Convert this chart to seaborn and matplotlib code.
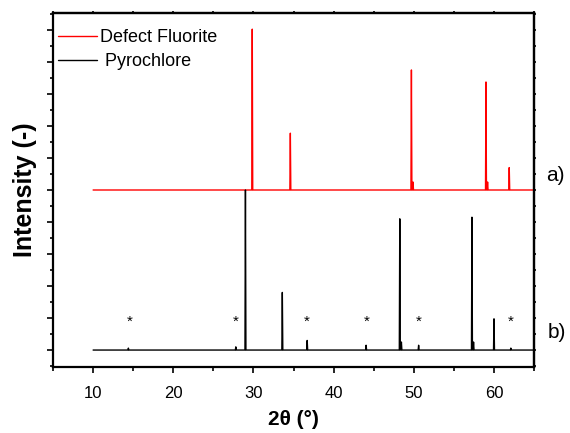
import numpy as np
import pandas as pd
import matplotlib
matplotlib.use("Agg")
import matplotlib.pyplot as plt
import seaborn as sns

# peak positions (2theta, deg) and heights
fluor_pos = [29.85, 34.6, 49.7, 49.9, 59.0, 59.2, 61.9]
fluor_int = [10.05, 3.55, 7.5, 0.5, 6.75, 0.5, 1.4]
pyro_pos = [14.4, 27.8, 29.0, 33.6, 36.7, 44.05, 48.25, 48.45, 50.6, 57.25, 57.45, 60.0, 62.1]
pyro_int = [0.12, 0.2, 10.0, 3.6, 0.6, 0.3, 8.2, 0.5, 0.3, 8.3, 0.5, 1.95, 0.12]
offsets = {"Defect Fluorite": 10.0, " Pyrochlore": 0.0}
star_pos = [14.6, 27.8, 36.7, 44.1, 50.6, 62.1]
scan_start, scan_end = 10, 65
half_width = 0.06

def pattern(pos, inten, shift, name):
    # baseline with a narrow triangle for every peak
    xs, ys = [scan_start], [shift]
    for p, h in sorted(zip(pos, inten)):
        xs += [p - half_width, p, p + half_width]
        ys += [shift, shift + h, shift]
    xs.append(scan_end)
    ys.append(shift)
    return pd.DataFrame({"two_theta": xs, "intensity": ys, "phase": name})

df = pd.concat([
    pattern(fluor_pos, fluor_int, offsets["Defect Fluorite"], "Defect Fluorite"),
    pattern(pyro_pos, pyro_int, offsets[" Pyrochlore"], " Pyrochlore"),
])

sns.set_style("ticks")
plt.rcParams["font.family"] = ["Liberation Sans", "DejaVu Sans"]
plt.rcParams.update({"text.color": "black", "axes.labelcolor": "black",
                     "xtick.color": "black", "ytick.color": "black"})

fig = plt.figure(figsize=(5.7, 4.33), dpi=100)
ax = fig.add_axes([0.093, 0.1524, 0.844, 0.8176])

for name, col in [("Defect Fluorite", "#ff0000"), (" Pyrochlore", "#000000")]:
    sub = df[df.phase == name]
    sns.lineplot(data=sub, x="two_theta", y="intensity", ax=ax, color=col,
                 lw=1.0, sort=False, estimator=None, label=name)

for s in star_pos:
    ax.text(s, 1.77, "*", ha="center", va="center", fontsize=11, color="black")

ax.text(66.5, 10.9, "a)", fontsize=15, va="center", ha="left", clip_on=False)
ax.text(66.75, 1.1, "b)", fontsize=15, va="center", ha="left", clip_on=False)

ax.set_xlim(5, 65)
ax.set_ylim(-1.06, 21.06)
ax.set_xticks([10, 20, 30, 40, 50, 60])
ax.set_xticks([5, 15, 25, 35, 45, 55, 65], minor=True)
ax.set_yticks(np.arange(0, 21, 2))
ax.set_yticks(np.arange(-1, 22, 2), minor=True)
ax.set_yticklabels([])
ax.tick_params(axis="both", which="major", length=4.5, width=1.2, labelsize=12, pad=9,
               direction="out", colors="black")
ax.tick_params(axis="both", which="minor", length=3.0, width=1.2, direction="out", colors="black")
ax.tick_params(axis="y", which="minor", length=2.2)

top = ax.secondary_xaxis("top")
top.set_xticks([5, 10, 15, 20, 25, 30, 35, 40, 45, 50, 55, 60, 65])
top.set_xticklabels([])
top.tick_params(length=1.5, width=1.2, direction="out", colors="black")
right = ax.secondary_yaxis("right")
right.set_yticks(np.arange(-1, 22, 1))
right.set_yticklabels([])
right.tick_params(length=1.5, width=1.2, direction="out", colors="black")

for sp in list(ax.spines.values()) + [top.spines["top"], right.spines["right"]]:
    sp.set_linewidth(1.6)
    sp.set_color("black")

ax.set_xlabel("2θ (°)", fontsize=15, fontweight="bold", labelpad=7)
ax.set_ylabel("Intensity (-)", fontsize=18, fontweight="bold")
ax.yaxis.set_label_coords(-0.034, 0.5)

ax.legend(loc="upper left", bbox_to_anchor=(-0.016, 0.99), frameon=False, fontsize=13,
          handlelength=2.15, handletextpad=0.2, labelspacing=0.38, borderaxespad=0.3)

fig.savefig("out.png", dpi=100)
